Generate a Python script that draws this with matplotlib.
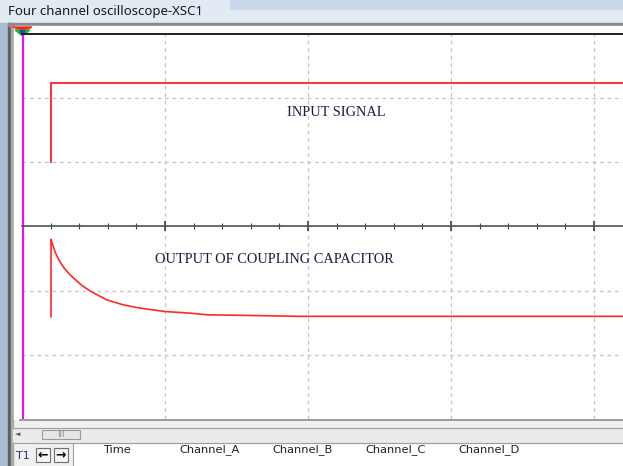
#import
import matplotlib.pyplot as plt
from matplotlib.patches import Rectangle, Polygon
import numpy as np

#data (screen divisions: x = time divisions from the left edge, y = divisions from centre line)
input_t = [0.203, 0.203, 4.25]
input_v = [1.00, 2.24, 2.24]

output_t = [0.203, 0.203, 0.213, 0.231, 0.254, 0.277, 0.301, 0.330, 0.359, 0.420, 0.476, 0.592, 0.708, 0.825, 1.000, 1.175, 1.292, 1.524, 1.944, 4.25]
output_v = [-1.407, -0.199, -0.275, -0.395, -0.505, -0.592, -0.665, -0.738, -0.801, -0.920, -1.005, -1.143, -1.221, -1.272, -1.325, -1.350, -1.376, -1.384, -1.400, -1.400]

labels = ["INPUT SIGNAL", "OUTPUT OF COUPLING CAPACITOR"]
label_pos = [(1.85, 1.78), (0.93, -0.52)]

columns = ["Time", "Channel_A", "Channel_B", "Channel_C", "Channel_D"]
column_x = [103, 179, 272, 365, 458]

W, H = 623, 466
fig = plt.figure(figsize=(W / 100, H / 100), dpi=100)

#window chrome drawn in pixel coordinates
bg = fig.add_axes([0, 0, 1, 1])
bg.set_xlim(0, W)
bg.set_ylim(H, 0)
bg.axis("off")
bg.add_patch(Rectangle((0, 0), W, H, color="#f0f0f0"))
bg.add_patch(Rectangle((0, 0), W, 23, color="#e2eaf4"))
bg.add_patch(Rectangle((230, 0), W - 230, 9, color="#cad8e9"))
bg.add_patch(Rectangle((0, 23), 8, H, color="#a9bdd5"))
bg.add_patch(Rectangle((8, 23), 3, H, color="#5f5f5f"))
bg.add_patch(Rectangle((11, 23), 2, H, color="#a8a8a8"))
bg.add_patch(Rectangle((8, 23), W, 3, color="#8a8a8a"))
bg.add_patch(Rectangle((14, 26), W, 393, color="white"))
bg.plot([20, W], [419.5, 419.5], color="#8c8c8c", lw=1.2)
bg.plot([13, W], [427.5, 427.5], color="#a0a0a0", lw=0.8)
bg.add_patch(Rectangle((13, 428), W, 14, color="#ebebeb"))
bg.plot([13, W], [442.5, 442.5], color="#a0a0a0", lw=0.8)
bg.add_patch(Rectangle((42, 430), 38, 9, facecolor="#e6e6e6", edgecolor="#9a9a9a", lw=0.8))
bg.text(61, 434.5, "III", fontsize=6, color="#8a8a8a", ha="center", va="center")
bg.text(18, 434.5, "◄", fontsize=5, color="#555555", ha="center", va="center")
bg.add_patch(Rectangle((73, 443), W, 30, facecolor="white", edgecolor="#a0a0a0", lw=0.8))
bg.text(16, 456, "T1", fontsize=8, color="#1a3a7a", va="center")
bg.add_patch(Rectangle((36, 448), 14, 14, facecolor="#f4f4f4", edgecolor="#707070", lw=0.8))
bg.add_patch(Rectangle((54, 448), 14, 14, facecolor="#f4f4f4", edgecolor="#707070", lw=0.8))
bg.text(43, 455, "←", fontsize=9, fontweight="bold", ha="center", va="center")
bg.text(61, 455, "→", fontsize=9, fontweight="bold", ha="center", va="center")
for name, cx in zip(columns, column_x):
    bg.text(cx, 450, name, fontsize=8.2, color="#202020", va="center", family="DejaVu Sans")
bg.text(8, 12, "Four channel oscilloscope-XSC1", fontsize=9.5, color="#1a1a1a", va="center", family="Noto Sans")

#scope screen
ax = fig.add_axes([22 / W, (H - 419) / H, (W - 22) / W, (419 - 34) / H])
ax.set_xlim(0, (W - 22) / 143)
ax.set_ylim(-3, 3)
ax.patch.set_alpha(0)

ax.set_xticks([1, 2, 3, 4])
ax.set_xticks(np.arange(0.2, 4.2, 0.2), minor=True)
ax.set_yticks([-2, -1, 1, 2])
ax.tick_params(axis="x", which="major", direction="inout", length=7, width=1.2, color="#404040", labelbottom=False)
ax.tick_params(axis="x", which="minor", direction="inout", length=4, width=0.8, color="#404040")
ax.tick_params(axis="y", which="both", left=False, labelleft=False)
ax.grid(True, which="major", color="#c4c4c4", lw=0.9, ls=(0, (3, 3)))

ax.spines["bottom"].set_position(("data", 0))
ax.spines["bottom"].set_color("#505050")
ax.spines["bottom"].set_linewidth(1.2)
ax.spines["top"].set_color("#202020")
ax.spines["top"].set_linewidth(1.4)
ax.spines["left"].set_visible(False)
ax.spines["right"].set_visible(False)

#traces
ax.plot(input_t, input_v, color="#ff2020", lw=1.3, solid_joinstyle="miter")
ax.plot(output_t, output_v, color="#ff2828", lw=1.2)
ax.axvline(0.004, color="#ff00ff", lw=1.5)

for text, (tx, ty) in zip(labels, label_pos):
    ax.text(tx, ty, text, fontsize=10.4, family="Liberation Serif", color="#1c1c3c", va="center")

#cursor marker
bg.add_patch(Polygon([(13, 27), (32, 27), (22.5, 31)], color="#ff2020"))
bg.add_patch(Polygon([(15, 30), (30, 30), (22.5, 36)], color="#18c018"))
bg.add_patch(Rectangle((20, 29.5), 4, 3, color="#3040c0"))

plt.savefig("out.png", dpi=100)
